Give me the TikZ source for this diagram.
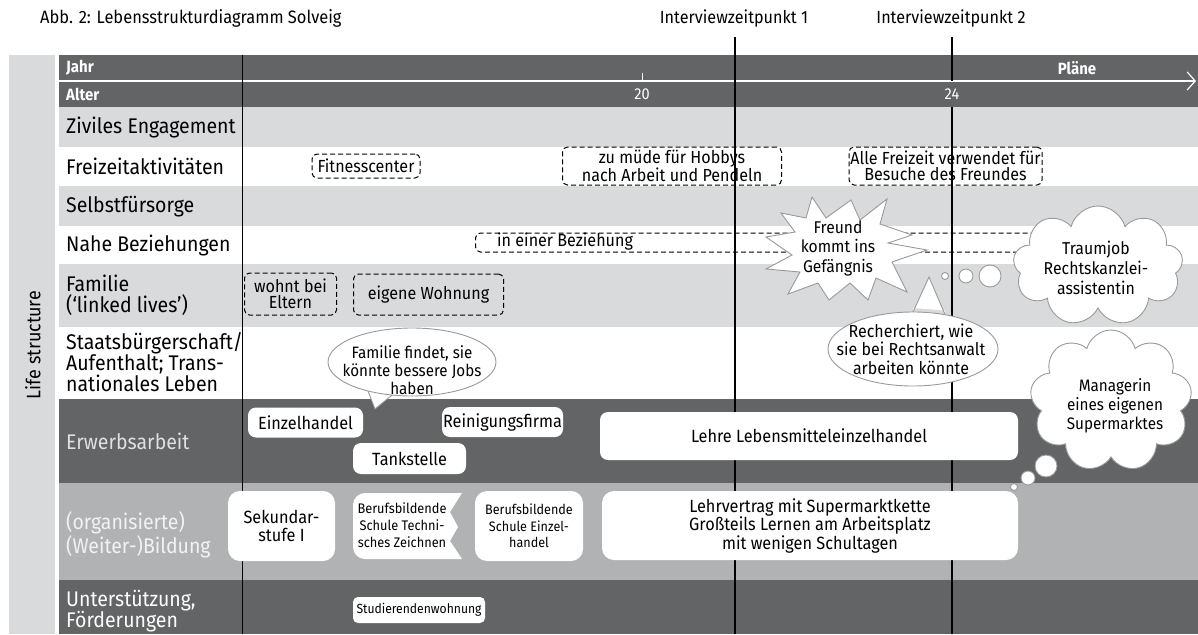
\documentclass[tikz,border=0pt]{standalone}
\usepackage{fontspec}
\setmainfont{Fira Sans}[FakeStretch=0.92]
\usetikzlibrary{arrows.meta,shapes.symbols}
\definecolor{dk}{HTML}{636466}
\definecolor{lt}{HTML}{D9DADB}
\definecolor{md}{HTML}{B1B2B4}
\definecolor{bord}{HTML}{9A9A9A}
\begin{document}
\begin{tikzpicture}[x=1pt,y=-1pt,
  every node/.style={inner sep=0pt},
  lab/.style={anchor=west, align=left, font=\fontsize{21.2}{20.8}\selectfont},
  hdr/.style={text=white, font=\bfseries\fontsize{16.3}{16}\selectfont},
  dbox/.style={draw=black, dash pattern=on 5pt off 3pt, rounded corners=5pt, line width=1pt, align=center, font=\fontsize{17.5}{15.5}\selectfont},
  wbox/.style={fill=white, rounded corners=8pt, align=center, font=\fontsize{17.7}{18.5}\selectfont},
  sbox/.style={fill=white, rounded corners=12pt, align=center, font=\fontsize{13.7}{16.5}\selectfont},
  bubble/.style={fill=white, draw=bord, line width=0.9pt},
  txt/.style={align=center, font=\fontsize{17.2}{19}\selectfont},
  vline/.style={black, line width=1.4pt},
]
\useasboundingbox (0,0) rectangle (1198,634);
% title and interview labels
\node[anchor=west, font=\fontsize{17.9}{20}\selectfont] (title) at (40,18) {Abb. 2: Lebensstrukturdiagramm Solveig};
\node[font=\fontsize{17.6}{16}\selectfont] (iz1) at (734,19) {Interviewzeitpunkt 1};
\node[font=\fontsize{17.6}{16}\selectfont] (iz2) at (951,19) {Interviewzeitpunkt 2};
% left strip
\fill[lt] (9,55) rectangle (55,634);
\node[rotate=90, font=\fontsize{19.5}{20}\selectfont] (ls) at (33,345) {Life structure};
% header and rows
\fill[dk] (59,55) rectangle (1198,107);
\fill[lt] (59,107) rectangle (1198,147);
\fill[lt] (59,186) rectangle (1198,226);
\fill[lt] (59,264) rectangle (1198,327);
\fill[dk] (59,399) rectangle (1198,483);
\fill[md] (59,483) rectangle (1198,580);
\fill[dk] (59,580) rectangle (1198,634);
% axis
\coordinate (axs) at (59,81);
\coordinate (axe) at (1196,81);
\draw[white, line width=1.2pt, -{Straight Barb[length=8pt, width=18pt]}] (axs) -- (axe);
\coordinate (tk1) at (642,73);
\coordinate (tk2) at (642,81);
\draw[white, line width=1pt] (tk1) -- (tk2);
% header texts
\node[hdr, anchor=west] (jahr) at (66,68) {Jahr};
\node[hdr, anchor=west] (alter) at (66,94) {Alter};
\node[hdr] (plane) at (1077,68) {Pläne};
\node[text=white, font=\fontsize{15.8}{16}\selectfont] (a20) at (642,94) {20};
\node[text=white, font=\fontsize{15.8}{16}\selectfont] (a24) at (952,94) {24};
% vertical lines
\coordinate (sept) at (242,55);
\coordinate (sepb) at (242,634);
\draw[black, line width=1pt] (sept) -- (sepb);
\coordinate (l1t) at (735,37);
\coordinate (l1b) at (735,634);
\draw[vline] (l1t) -- (l1b);
\coordinate (l2t) at (952,37);
\coordinate (l2m) at (952,81);
\coordinate (l2n) at (952,107);
\coordinate (l2b) at (952,634);
\draw[vline] (l2t) -- (l2m);
\draw[vline] (l2n) -- (l2b);
% row labels
\node[lab] (r1) at (66,127) {Ziviles Engagement};
\node[lab] (r2) at (66,166) {Freizeitaktivitäten};
\node[lab] (r3) at (66,207) {Selbstfürsorge};
\node[lab] (r4) at (66,245) {Nahe Beziehungen};
\node[lab] (r5) at (66,295) {Familie\\(‘linked lives’)};
\node[lab, font=\fontsize{21.2}{19.5}\selectfont] (r6) at (66,362) {Staatsbürgerschaft/\\Aufenthalt; Trans-\\nationales Leben};
\node[lab, text=white!88!black] (r7) at (66,441) {Erwerbsarbeit};
\node[lab, text=white!95!black] (r8) at (66,535) {(organisierte)\\(Weiter-)Bildung};
\node[lab, text=white] (r9) at (66,611) {Unterstützung,\\Förderungen};
% Freizeit
\node[dbox, minimum width=108, minimum height=24] (fit) at (366,166) {Fitnesscenter};
\node[dbox, minimum width=219, minimum height=38] (mud) at (672,166) {zu müde für Hobbys\\nach Arbeit und Pendeln};
\node[dbox, minimum width=193, minimum height=38] (alle) at (945.5,166) {Alle Freizeit verwendet für\\Besuche des Freundes};
% Beziehung
\node[dbox, minimum width=565, minimum height=19, anchor=west] (bez) at (475,242.5) {};
\node[anchor=west, font=\fontsize{17.5}{18}\selectfont] (beztxt) at (497,241.5) {in einer Beziehung};
% Familie
\node[dbox, minimum width=92, minimum height=42] (wohnt) at (290.5,294) {wohnt bei\\Eltern};
\node[dbox, minimum width=150, minimum height=41] (eig) at (428.5,294.5) {eigene Wohnung};
% Erwerbsarbeit
\node[wbox, minimum width=115, minimum height=30] (ez) at (305.5,422.5) {Einzelhandel};
\node[wbox, minimum width=113, minimum height=31] (tank) at (409.5,458.5) {Tankstelle};
\node[wbox, minimum width=121, minimum height=30] (rein) at (502.5,422) {Reinigungsfirma};
\node[wbox, minimum width=418, minimum height=48] (lehre) at (809,436) {Lehre Lebensmitteleinzelhandel};
% Bildung
\node[wbox, minimum width=107, minimum height=70, rounded corners=12pt] (sek) at (281.5,526) {Sekundar-\\stufe I};
\fill[white] (462,493) -- (365,493) arc[start angle=270, end angle=180, radius=12] -- (353,547) arc[start angle=180, end angle=90, radius=12] -- (462,559) -- (450,541) -- (458,527) -- (450,512) -- cycle;
\node[align=center, font=\fontsize{13.9}{16.7}\selectfont] (btz) at (402,525) {Berufsbildende\\Schule Techni-\\sches Zeichnen};
\node[sbox, minimum width=108, minimum height=70] (bse) at (529,526) {Berufsbildende\\Schule Einzel-\\handel};
\node[wbox, minimum width=416, minimum height=69, rounded corners=12pt] (lv) at (810,525.5) {Lehrvertrag mit Supermarktkette\\Großteils Lernen am Arbeitsplatz\\mit wenigen Schultagen};
% Unterstuetzung
\node[sbox, minimum width=132, minimum height=26, rounded corners=5pt, font=\fontsize{13.2}{16}\selectfont] (stud) at (419,610) {Studierendenwohnung};
% speech bubble 1
\coordinate (e1c) at (412,362);
\draw[bubble] (e1c) ellipse[x radius=84, y radius=34];
\coordinate (t1a) at (368,391);
\coordinate (t1tip) at (375,409);
\coordinate (t1b) at (392,395);
\fill[white] (t1a) -- (t1tip) -- (t1b) -- ([yshift=-4]t1b) -- ([yshift=-4]t1a) -- cycle;
\draw[bord, line width=0.9pt] (t1a) -- (t1tip) -- (t1b);
\node[txt, font=\fontsize{16.5}{18}\selectfont] (e1t) at (412,370) {Familie findet, sie\\könnte bessere Jobs\\haben};
% speech bubble 2
\coordinate (e2c) at (913,349);
\draw[bubble] (e2c) ellipse[x radius=85, y radius=37];
\coordinate (t2a) at (913,312);
\coordinate (t2tip) at (929,277);
\coordinate (t2b) at (945,314.5);
\fill[white] (t2a) -- (t2tip) -- (t2b) -- ([yshift=4]t2b) -- ([yshift=4]t2a) -- cycle;
\draw[bord, line width=0.9pt] (t2a) -- (t2tip) -- (t2b);
\node[txt, font=\fontsize{17.4}{18.5}\selectfont] (e2t) at (911,349) {Recherchiert, wie\\sie bei Rechtsanwalt\\arbeiten könnte};
% starburst
\draw[bubble] (812,197) -- (826,218) -- (851,200) -- (860,220) -- (887,199) -- (880,224) -- (912,235) -- (888,243) -- (927,250) -- (892,262) -- (907,292) -- (876,278) -- (868,300) -- (850,283) -- (829,300) -- (818,283) -- (788,294) -- (800,272) -- (766,269) -- (792,255) -- (766,237) -- (795,232) -- (781,213) -- (806,218) -- cycle;
\node[txt, font=\fontsize{17}{19.5}\selectfont] (frt) at (838,248) {Freund\\kommt ins\\Gefängnis};
% cloud 1
\node[cloud, cloud puffs=9, cloud ignores aspect, draw=bord, fill=white, line width=0.9pt, minimum width=170, minimum height=120] (c1) at (1098,266) {};
\node[txt, font=\fontsize{17.2}{20}\selectfont] (c1t) at (1096,268) {Traumjob\\Rechtskanzlei-\\assistentin};
\node[circle, bubble, minimum size=7] (c1a) at (945,276) {};
\node[circle, bubble, minimum size=14] (c1b) at (966,276) {};
\node[circle, bubble, minimum size=22] (c1c) at (990,276) {};
% cloud 2
\node[cloud, cloud puffs=9, cloud ignores aspect, draw=bord, fill=white, line width=0.9pt, minimum width=162, minimum height=142] (c2) at (1111,401) {};
\node[txt, font=\fontsize{16.6}{19}\selectfont] (c2t) at (1115,406) {Managerin\\eines eigenen\\Supermarktes};
\node[circle, bubble, minimum size=7] (c2a) at (1014,487) {};
\node[circle, bubble, minimum size=14] (c2b) at (1028,478) {};
\node[circle, bubble, minimum size=22] (c2c) at (1046,466) {};
\end{tikzpicture}
\end{document}
